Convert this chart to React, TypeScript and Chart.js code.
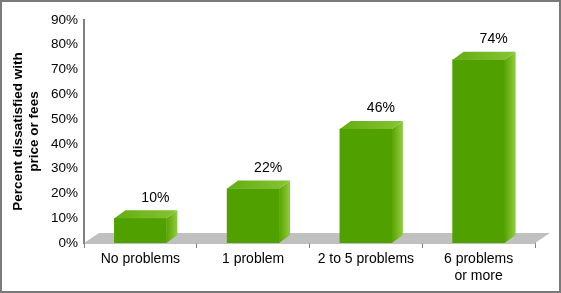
import React, { useEffect, useRef } from "react";
import { Chart, registerables } from "chart.js";

Chart.register(...registerables);

const categories: (string | string[])[] = ["No problems", "1 problem", "2 to 5 problems", ["6 problems", "or more"]];
const values: number[] = [10, 22, 46, 74];
const yTickMax = 90;
const yTickStep = 10;
const yTitle: string[] = ["Percent dissatisfied with", "price or fees"];

const FONT = "'Liberation Sans', Arial, Helvetica, sans-serif";
const DX = 11;
const DY = -8;
const FX = 15;
const FY = -10;

const bar3d = {
  id: "bar3d",
  beforeDatasetsDraw(chart: any) {
    const { ctx, chartArea } = chart;
    const y0 = chart.scales.y.getPixelForValue(0);
    ctx.save();
    ctx.fillStyle = "#c0c0c0";
    ctx.beginPath();
    ctx.moveTo(chartArea.left, y0);
    ctx.lineTo(chartArea.left + FX, y0 + FY);
    ctx.lineTo(chartArea.right + FX, y0 + FY);
    ctx.lineTo(chartArea.right, y0);
    ctx.closePath();
    ctx.fill();
    ctx.restore();
  },
  afterDatasetsDraw(chart: any) {
    const { ctx } = chart;
    const meta = chart.getDatasetMeta(0);
    const y0 = chart.scales.y.getPixelForValue(0);
    ctx.save();
    meta.data.forEach((el: any, i: number) => {
      const { x, y, width } = el.getProps(["x", "y", "width"], true);
      const l = x - width / 2;
      const r = x + width / 2;
      // side face
      const sg = ctx.createLinearGradient(r, 0, r + DX, 0);
      sg.addColorStop(0, "#58a400");
      sg.addColorStop(1, "#90cc40");
      ctx.fillStyle = sg;
      ctx.beginPath();
      ctx.moveTo(r, y);
      ctx.lineTo(r + DX, y + DY);
      ctx.lineTo(r + DX, y0 + DY);
      ctx.lineTo(r, y0);
      ctx.closePath();
      ctx.fill();
      // top face
      const tg = ctx.createLinearGradient(l, 0, r + DX, 0);
      tg.addColorStop(0, "#64ad12");
      tg.addColorStop(1, "#86c434");
      ctx.fillStyle = tg;
      ctx.beginPath();
      ctx.moveTo(l, y);
      ctx.lineTo(l + DX, y + DY);
      ctx.lineTo(r + DX, y + DY);
      ctx.lineTo(r, y);
      ctx.closePath();
      ctx.fill();
      // value label
      ctx.fillStyle = "#000";
      ctx.font = `14px ${FONT}`;
      ctx.textAlign = "center";
      ctx.textBaseline = "middle";
      ctx.fillText(`${values[i]}%`, x + 15, y + DY - 12.5);
    });
    ctx.restore();
  },
};

export default function App() {
  const ref = useRef<HTMLCanvasElement | null>(null);
  useEffect(() => {
    document.body.style.margin = "0";
    const chart = new Chart(ref.current as HTMLCanvasElement, {
      type: "bar",
      data: {
        labels: categories as any,
        datasets: [
          {
            data: values,
            backgroundColor: "#50a000",
            borderWidth: 0,
            barThickness: 52,
          },
        ],
      },
      options: {
        animation: false,
        responsive: false,
        devicePixelRatio: 1,
        layout: { padding: { top: 18, right: 24, left: 0, bottom: 0 } },
        plugins: { legend: { display: false }, tooltip: { enabled: false } },
        scales: {
          x: {
            z: 1,
            offset: true,
            grid: {
              display: true,
              drawOnChartArea: false,
              drawTicks: true,
              tickLength: 5,
              color: "#808080",
              lineWidth: 1,
              offset: true,
            },
            border: { display: true, color: "#808080", width: 1.5 },
            ticks: {
              color: "#000",
              padding: 3,
              maxRotation: 0,
              autoSkip: false,
              font: { family: FONT, size: 14, lineHeight: 1.2 },
            },
            afterFit(scale: any) {
              scale.height = 48;
            },
          } as any,
          y: {
            z: 1,
            min: 0,
            max: yTickMax,
            grid: { display: false, drawTicks: false, tickLength: 0 },
            border: { display: true, color: "#808080", width: 2 },
            ticks: {
              stepSize: yTickStep,
              color: "#000",
              padding: 6,
              font: { family: FONT, size: 13.5 },
              callback: (v: any) => `${v}%`,
            },
            title: {
              display: true,
              text: yTitle,
              color: "#000",
              padding: { top: 9, bottom: 0 },
              font: { family: FONT, size: 13.5, weight: "bold", lineHeight: 1.15 },
            },
            afterFit(scale: any) {
              scale.width = 82;
            },
          } as any,
        },
      },
      plugins: [bar3d],
    });
    return () => chart.destroy();
  }, []);
  return (
    <div
      style={{
        position: "absolute",
        left: 0,
        top: 0,
        width: 561,
        height: 293,
        boxSizing: "border-box",
        border: "2px solid #7a7a7a",
        background: "#fff",
      }}
    >
      <canvas ref={ref} width={557} height={289} style={{ display: "block", width: 557, height: 289 }} />
    </div>
  );
}
